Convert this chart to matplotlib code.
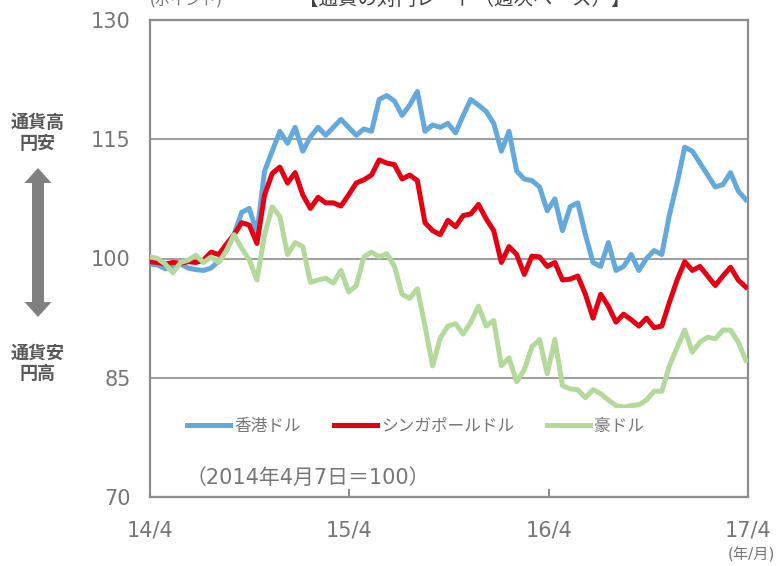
import matplotlib
matplotlib.use("Agg")
import matplotlib.pyplot as plt
from matplotlib.patches import FancyArrow
import pandas as pd

plt.rcParams['font.family'] = ['DejaVu Sans', 'Noto Sans CJK JP']

# ---- data (index, 2014-04-07 = 100), sampled every two weeks ----
start_date = "2014-04-07"
n_points = 79
hkd = [99.3, 99.2, 98.7, 99.0, 99.3, 98.8, 98.6, 98.5, 98.8, 99.7,
       101.0, 103.0, 105.8, 106.3, 103.2, 111.0, 113.5, 116.0, 114.5, 116.5,
       113.5, 115.3, 116.5, 115.5, 116.5, 117.5, 116.5, 115.5, 116.3, 116.0,
       120.0, 120.5, 119.8, 118.0, 119.3, 121.0, 116.0, 116.8, 116.5, 117.0,
       115.8, 118.0, 120.0, 119.3, 118.5, 117.0, 113.5, 116.0, 111.0, 110.0,
       109.8, 109.0, 106.0, 107.5, 103.5, 106.5, 107.0, 103.0, 99.5, 99.0,
       102.0, 98.5, 99.0, 100.5, 98.5, 100.0, 101.0, 100.5, 105.5, 109.5,
       114.0, 113.5, 112.0, 110.5, 109.0, 109.3, 110.8, 108.5, 107.4]
sgd = [99.6, 99.5, 99.3, 99.5, 99.4, 99.6, 99.5, 99.8, 100.8, 100.5,
       101.8, 103.0, 104.5, 104.2, 101.9, 108.0, 110.7, 111.5, 109.5, 110.8,
       108.0, 106.3, 107.7, 107.0, 107.0, 106.6, 108.0, 109.5, 109.9, 110.5,
       112.4, 112.0, 111.8, 110.0, 110.5, 109.8, 104.5, 103.5, 103.0, 104.8,
       104.0, 105.4, 105.6, 106.8, 105.0, 103.5, 99.5, 101.5, 100.5, 98.0,
       100.3, 100.2, 99.0, 99.5, 97.3, 97.4, 97.8, 95.5, 92.5, 95.5,
       94.0, 92.0, 93.0, 92.3, 91.5, 92.5, 91.3, 91.5, 94.5, 97.3,
       99.6, 98.5, 99.0, 97.8, 96.6, 97.8, 98.9, 97.3, 96.4]
aud = [100.2, 100.0, 99.3, 98.2, 99.5, 99.8, 100.4, 99.5, 100.2, 99.5,
       101.0, 103.0, 101.3, 99.8, 97.3, 103.0, 106.5, 105.3, 100.5, 102.0,
       101.5, 97.0, 97.3, 97.5, 96.9, 98.5, 95.8, 96.6, 100.2, 100.8,
       100.2, 100.6, 99.0, 95.5, 95.0, 96.2, 91.5, 86.5, 90.0, 91.5,
       91.8, 90.5, 92.0, 94.0, 91.5, 92.2, 86.5, 87.5, 84.5, 86.0,
       88.9, 89.8, 85.5, 89.8, 84.0, 83.6, 83.5, 82.5, 83.5, 83.0,
       82.2, 81.5, 81.3, 81.5, 81.6, 82.2, 83.3, 83.3, 86.5, 88.8,
       91.0, 88.2, 89.5, 90.1, 89.9, 91.0, 91.0, 89.5, 87.2]
series_names = ["香港ドル", "シンガポールドル", "豪ドル"]
series_colors = ["#64A9DD", "#E60012", "#B3D99B"]
tick_dates = ["2014-04-07", "2015-04-07", "2016-04-07", "2017-04-07"]
tick_labels = ["14/4", "15/4", "16/4", "17/4"]
y_ticks = [70, 85, 100, 115, 130]

dates = pd.date_range(start_date, periods=n_points, freq="14D")

fig = plt.figure(figsize=(7.76, 5.66), dpi=100)

# overlay in pixel units for the side arrow
ov = fig.add_axes([0, 0, 1, 1], zorder=0)
ov.set_xlim(0, 776)
ov.set_ylim(566, 0)
ov.axis("off")
arrow_color = "#808080"
ov.add_patch(FancyArrow(38, 243, 0, -75, width=12, head_width=27, head_length=15,
                        length_includes_head=True, color=arrow_color, lw=0))
ov.add_patch(FancyArrow(38, 242, 0, 75, width=12, head_width=27, head_length=15,
                        length_includes_head=True, color=arrow_color, lw=0))

ax = fig.add_axes([150/776, 69/566, 598/776, 477/566], zorder=1)

for vals, name, col in zip([hkd, sgd, aud], series_names, series_colors):
    ax.plot(dates, vals, color=col, lw=3.6, label=name, solid_joinstyle="round", zorder=3)

gray = "#8c8c8c"
txt = "#767676"
ax.set_ylim(70, 130)
ax.set_yticks(y_ticks)
ax.set_xlim(pd.Timestamp(tick_dates[0]), pd.Timestamp(tick_dates[-1]))
ax.set_xticks([pd.Timestamp(d) for d in tick_dates])
ax.set_xticklabels(tick_labels)
for s in ax.spines.values():
    s.set_color(gray)
    s.set_linewidth(1.6)
ax.grid(axis="y", color="#a0a0a0", lw=1.5, zorder=1)
ax.tick_params(axis="y", length=0, pad=14, labelsize=15, labelcolor=txt)
ax.tick_params(axis="x", direction="in", length=6, width=1.4, color=gray,
               pad=17, labelsize=15, labelcolor=txt)

leg = ax.legend(loc="upper left", bbox_to_anchor=(27/598, 89/477), ncol=3,
                frameon=True, fancybox=False, edgecolor="none", facecolor="white",
                framealpha=1.0, handlelength=2.6, handletextpad=0.25,
                columnspacing=1.95, borderpad=0.6, borderaxespad=0,
                prop={"family": ["Noto Sans CJK JP"], "size": 12})
leg.set_zorder(5)
for t in leg.get_texts():
    t.set_color(txt)

ax.text(36/598, 19/477, "（2014年4月7日＝100）", transform=ax.transAxes,
        fontsize=15, color=txt, va="center", ha="left",
        family=["DejaVu Sans", "Noto Sans CJK JP"], zorder=6)

# side annotations
fig.text(38/776, 1 - 133/566, "通貨高\n円安", ha="center", va="center",
         fontsize=13, fontweight="bold", color="#595959", linespacing=1.1,
         family=["Noto Sans CJK JP"])
fig.text(38/776, 1 - 363/566, "通貨安\n円高", ha="center", va="center",
         fontsize=13, fontweight="bold", color="#595959", linespacing=1.1,
         family=["Noto Sans CJK JP"])

fig.text(775/776, 1 - 555/566, "(年/月)", ha="right", va="center",
         fontsize=11, color=txt)
fig.text(150/776, 1 - 0/566, "(ポイント)", ha="left", va="center",
         fontsize=11, color=txt, family=["DejaVu Sans", "Noto Sans CJK JP"])
fig.text(465/776, 1 + 1/566, "【通貨の対円レート（週次ベース）】", ha="center", va="center",
         fontsize=14, color="#404040", family=["Noto Sans CJK JP"])

fig.savefig("out.png", dpi=100)
